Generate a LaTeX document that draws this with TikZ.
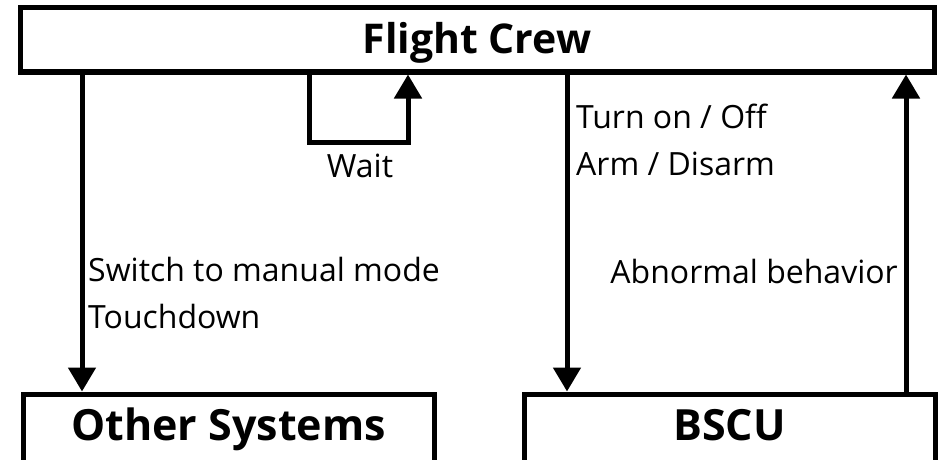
\documentclass[tikz,border=0pt]{standalone}
\usepackage{fontspec}
\setmainfont{Open Sans}
\usetikzlibrary{arrows.meta}
\begin{document}
\begin{tikzpicture}[x=1pt,y=-1pt,
  box/.style={draw, line width=5pt, rectangle, inner sep=0pt,
    font=\fontsize{41}{48}\selectfont\bfseries, text height=28pt, text depth=0pt},
  lowbox/.style={box, minimum width=411pt, minimum height=76pt,
    font=\fontsize{43}{50}\selectfont\bfseries, text depth=12pt},
  flow/.style={line width=5pt, -{Triangle[width=27pt,length=24pt]}},
  lbl/.style={inner sep=0pt, font=\fontsize{32}{46.5}\selectfont, align=left}]
\useasboundingbox (0,0) rectangle (942,460);

% the three units
\node[box, minimum width=914pt, minimum height=64.5pt] (fc) at (477,39.75) {Flight Crew};
\node[lowbox] (os) at (228.5,432) {Other Systems};
\node[lowbox] (bscu) at (729.5,432) {BSCU};

% vertical positions of the connectors
\coordinate (xa) at (82,0);
\coordinate (xl) at (309,0);
\coordinate (xr) at (408,0);
\coordinate (xb) at (567,0);
\coordinate (xc) at (906,0);
\coordinate (wb) at (358,142);

% connectors
\draw[flow] (fc.south -| xa) -- (os.north -| xa);
\draw[flow] (fc.south -| xl) |- (wb) -| (fc.south -| xr);
\draw[flow] (fc.south -| xb) -- (bscu.north -| xb);
\draw[flow] (bscu.north -| xc) -- (fc.south -| xc);

% connector labels (base anchor sits on the last line)
\node[lbl, anchor=base west] (swl) at (88,328) {Switch to manual mode\\Touchdown};
\node[lbl, anchor=base west] (onl) at (576,175) {Turn on / Off\\Arm / Disarm};
\node[lbl, anchor=base east] (abl) at (898,283) {Abnormal behavior};
\node[lbl, anchor=base] (wtl) at (360,177) {Wait};
\end{tikzpicture}
\end{document}
